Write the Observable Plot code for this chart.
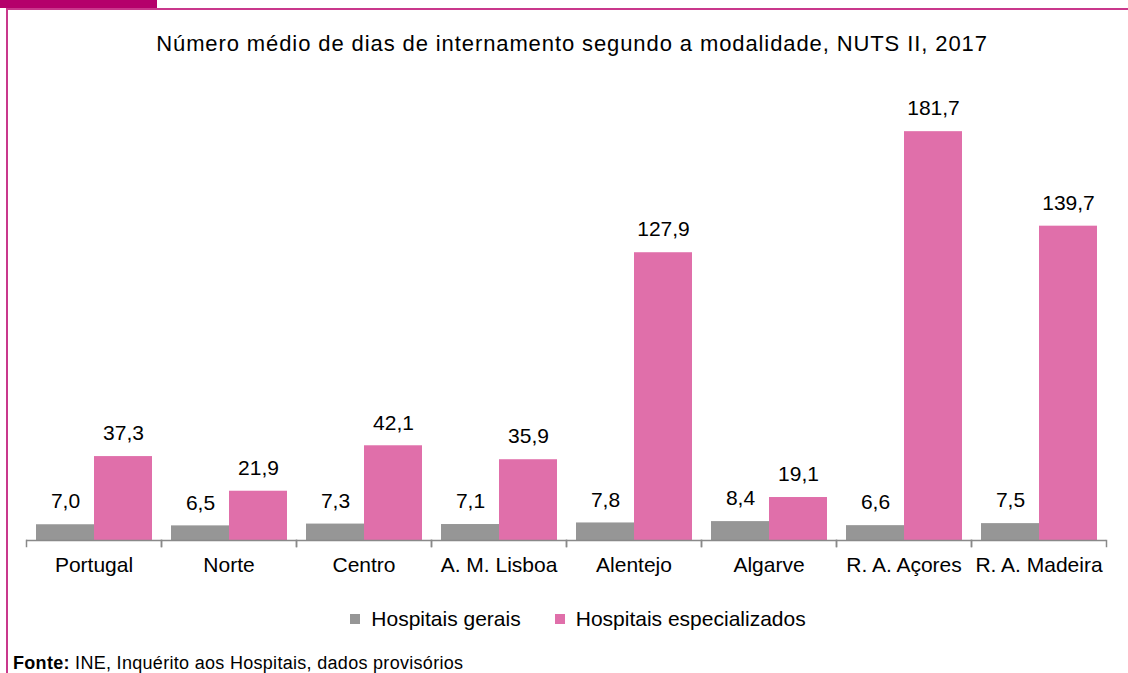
<!DOCTYPE html>
<html>
<head>
<meta charset="utf-8">
<script src="https://cdn.jsdelivr.net/npm/d3@7"></script>
<script src="https://cdn.jsdelivr.net/npm/@observablehq/plot@0.6"></script>
<style>
  html, body { margin: 0; padding: 0; background: #fff; }
  body { width: 1128px; height: 673px; position: relative; overflow: hidden; font-family: "Liberation Sans", Arial, sans-serif; }
  #tab { position: absolute; left: 0; top: 0; width: 157px; height: 8px; background: #B5006B; }
  #topline { position: absolute; left: 6px; top: 8px; width: 1122px; height: 2px; background: #C9388C; }
  #leftline { position: absolute; left: 6px; top: 8px; width: 2px; height: 665px; background: #C9388C; }
  #title { position: absolute; left: 0; top: 31px; width: 1144px; text-align: center; font-size: 22px; letter-spacing: 0.9px; color: #000; }
  #chart { position: absolute; left: 0; top: 90px; }
  #legend { position: absolute; left: 14px; top: 607px; width: 1128px; display: flex; justify-content: center; gap: 34px; font-size: 21px; color: #000; }
  #legend .item { display: flex; align-items: center; }
  #legend .sw { width: 10px; height: 10px; margin-right: 11px; }
  #source { position: absolute; left: 13px; top: 653px; font-size: 18px; letter-spacing: 0.3px; color: #000; }
</style>
</head>
<body>
<div id="tab"></div>
<div id="topline"></div>
<div id="leftline"></div>
<div id="title">Número médio de dias de internamento segundo a modalidade, NUTS II, 2017</div>
<div id="chart"></div>
<div id="legend"></div>
<div id="source"><b>Fonte:</b> INE, Inquérito aos Hospitais, dados provisórios</div>
<script>
const regions = ["Portugal", "Norte", "Centro", "A. M. Lisboa", "Alentejo", "Algarve", "R. A. Açores", "R. A. Madeira"];
const series = ["Hospitais gerais", "Hospitais especializados"];
const gerais = [7.0, 6.5, 7.3, 7.1, 7.8, 8.4, 6.6, 7.5];
const especializados = [37.3, 21.9, 42.1, 35.9, 127.9, 19.1, 181.7, 139.7];
const colors = ["#969696", "#E06FAA"];

const data = [];
regions.forEach((r, i) => {
  data.push({region: r, series: series[0], value: gerais[i]});
  data.push({region: r, series: series[1], value: especializados[i]});
});
const fmt = v => v.toFixed(1).replace(".", ",");

const chart = Plot.plot({
  width: 1128,
  height: 500,
  marginTop: 0,
  marginBottom: 50,
  marginLeft: 25,
  marginRight: 21,
  style: {fontFamily: "'Liberation Sans', Arial, sans-serif", fontSize: "21px", color: "#000", background: "transparent"},
  fx: {domain: regions, padding: 0, label: null},
  x: {domain: series, paddingInner: 0, paddingOuter: 0.15, axis: null},
  y: {domain: [0, 200], axis: null},
  color: {domain: series, range: colors},
  marks: [
    Plot.barY(data, {fx: "region", x: "series", y: "value", fill: "series"}),
    Plot.text(data, {fx: "region", x: "series", y: "value", text: d => fmt(d.value), dy: -23, fontSize: 21, fill: "#000"}),
    Plot.ruleY([0], {stroke: "#898989", strokeWidth: 1.5}),
    Plot.frame({anchor: "left", stroke: "#898989", strokeWidth: 1.5, insetTop: 450, insetBottom: -6}),
    Plot.frame({anchor: "right", stroke: "#898989", strokeWidth: 1.5, insetTop: 450, insetBottom: -6}),
    Plot.axisFx({anchor: "bottom", tickSize: 0, tickPadding: 17, fontSize: 21, label: null})
  ]
});
document.getElementById("chart").appendChild(chart);

const legend = document.getElementById("legend");
series.forEach((s, i) => {
  const item = document.createElement("div");
  item.className = "item";
  const sw = document.createElement("div");
  sw.className = "sw";
  sw.style.background = colors[i];
  const t = document.createElement("span");
  t.textContent = s;
  item.appendChild(sw);
  item.appendChild(t);
  legend.appendChild(item);
});
</script>
</body>
</html>
